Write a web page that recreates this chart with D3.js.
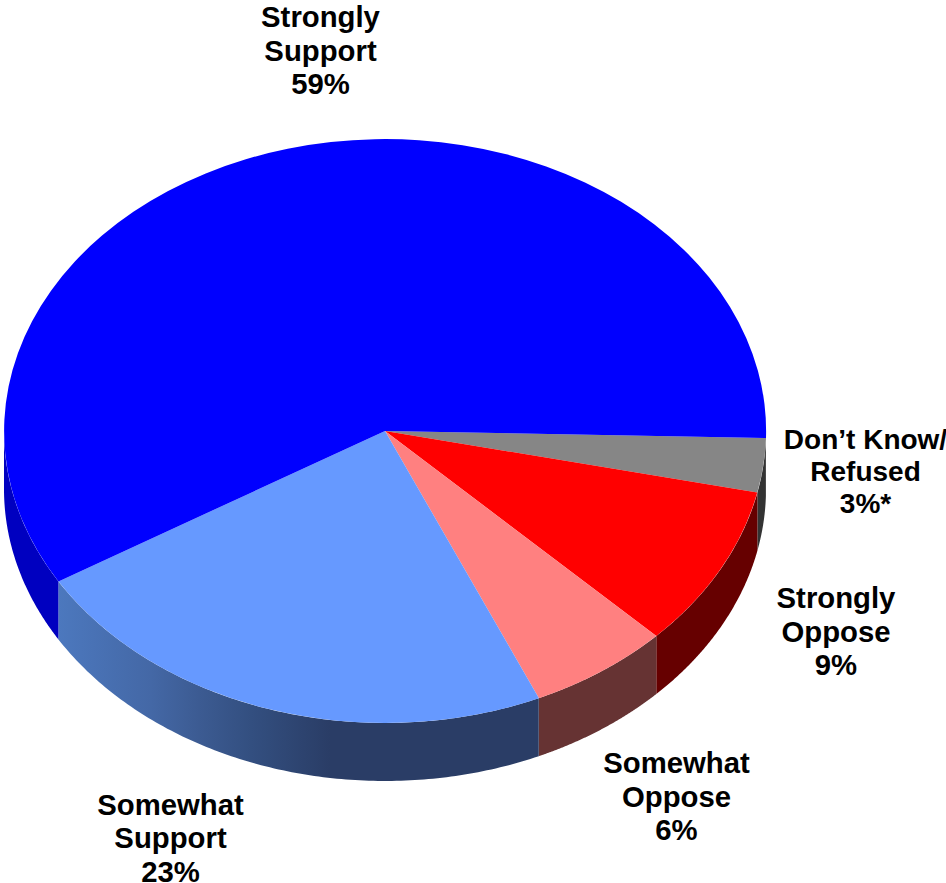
<!DOCTYPE html>
<html>
<head>
<meta charset="utf-8">
<script src="https://cdn.jsdelivr.net/npm/d3@7"></script>
<style>
html,body{margin:0;padding:0;background:#fff;overflow:hidden}
text{font-family:"Liberation Sans",Arial,sans-serif;font-weight:700;fill:#000;text-anchor:middle}
</style>
</head>
<body>
<script>
const categories = ["Don\u2019t Know/ Refused", "Strongly Oppose", "Somewhat Oppose", "Somewhat Support", "Strongly Support"];
const values = [3, 9, 6, 23, 59];
const valueLabels = ["3%*", "9%", "6%", "23%", "59%"];
const topColors = ["#868686", "#ff0000", "#ff8080", "#6699ff", "#0000ff"];
const sideColors = ["#333333", "#660000", "#663333", "url(#sideGrad)", "#0000c0"];
const labelLines = [["Don\u2019t Know/", "Refused"], ["Strongly", "Oppose"], ["Somewhat", "Oppose"], ["Somewhat", "Support"], ["Strongly", "Support"]];

const W = 946, H = 883;
const cx = 385, cy = 431, rx = 381, ry = 292, depth = 58;
const startDeg = 1.4;
const labelCenters = [[865.5, 449], [836, 608], [676.5, 773], [170.5, 815], [320.5, 27]];
const labelSizes = [28, 29.3, 29.3, 29.3, 29.3];
const lineHeights = [32, 33.5, 33.5, 33.3, 33.5];

const svg = d3.select("body").append("svg").attr("width", W).attr("height", H);
const grad = svg.append("defs").append("linearGradient").attr("id", "sideGrad")
  .attr("gradientUnits", "userSpaceOnUse").attr("x1", 58).attr("x2", 330).attr("y1", 0).attr("y2", 0);
[[0, "#4c78be"], [0.34, "#4468a6"], [0.52, "#3c5b92"], [0.71, "#334f80"], [1, "#2a3d66"]]
  .forEach(([o, c]) => grad.append("stop").attr("offset", o).attr("stop-color", c));

// d3 pie angles are clockwise from 12 o'clock
const pie = d3.pie().sort(null).value(d => d)
  .startAngle((90 + startDeg) * Math.PI / 180)
  .endAngle((90 + startDeg + 360) * Math.PI / 180);
const arcs = pie(values);

const px = a => cx + rx * Math.sin(a);
const py = a => cy - ry * Math.cos(a);

// Side walls: only the front (lower) half of the ellipse is visible
const side = d3.area().x(d => px(d)).y0(d => py(d)).y1(d => py(d) + depth);
const PI = Math.PI;
arcs.forEach((s, i) => {
  const a0 = Math.max(s.startAngle, PI / 2), a1 = Math.min(s.endAngle, 3 * PI / 2);
  if (a1 <= a0) return;
  svg.append("path").attr("d", side(d3.range(0, 121).map(k => a0 + (a1 - a0) * k / 120)))
    .attr("fill", sideColors[i]).attr("stroke", "none");
});

// Top faces: unit pie squashed into the ellipse
const arc = d3.arc().innerRadius(0).outerRadius(1);
const topG = svg.append("g").attr("transform", `translate(${cx},${cy}) scale(${rx},${ry})`);
topG.selectAll("path").data(arcs).join("path")
  .attr("d", arc).attr("fill", (d, i) => topColors[i]);

// Labels
const lab = svg.append("g");
labelLines.forEach((lines, i) => {
  lines.concat(valueLabels[i]).forEach((t, j) => lab.append("text")
    .attr("x", labelCenters[i][0]).attr("y", labelCenters[i][1] + j * lineHeights[i])
    .attr("font-size", labelSizes[i]).text(t));
});
</script>
</body>
</html>
